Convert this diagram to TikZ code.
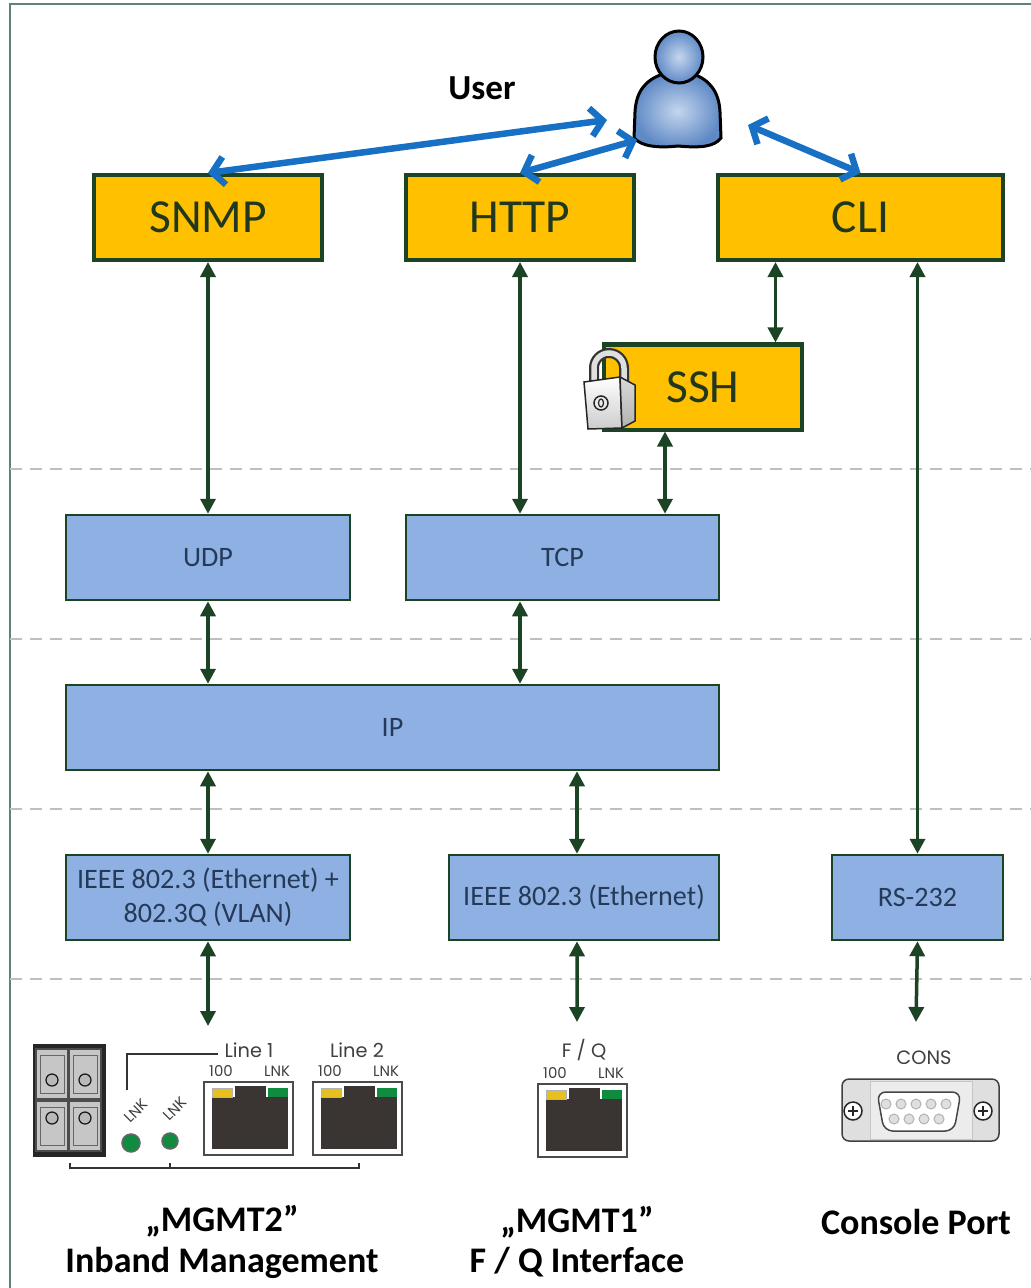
\documentclass[tikz,border=0pt]{standalone}
\usepackage{fontspec}
\setmainfont{Carlito}
\newfontfamily\portfont{Poppins}
\usepackage{tikz}
\usetikzlibrary{arrows.meta}

\definecolor{protoyellow}{RGB}{255,192,0}
\definecolor{layerblue}{RGB}{142,176,226}
\definecolor{darkgreen}{RGB}{28,68,36}
\definecolor{prototext}{RGB}{34,56,30}
\definecolor{layertext}{RGB}{36,58,88}
\definecolor{userblue}{RGB}{24,112,196}
\definecolor{iconlight}{RGB}{196,214,238}
\definecolor{icondark}{RGB}{96,138,198}
\definecolor{framegray}{RGB}{96,128,122}
\definecolor{ledgreen}{RGB}{16,140,64}
\definecolor{ledyellow}{RGB}{230,192,30}
\definecolor{jackgray}{RGB}{58,52,50}

\begin{document}
\begin{tikzpicture}[x=0.2mm,y=-0.2mm,
	proto/.style={draw=darkgreen,line width=0.8mm,fill=protoyellow,text=prototext,font=\fontsize{27}{32}\selectfont,minimum height=17mm,inner sep=0pt},
	layer/.style={draw=darkgreen,line width=0.5mm,fill=layerblue,text=layertext,font=\fontsize{16}{19.5}\selectfont,minimum height=17mm,inner sep=0pt,align=center},
	link/.style={draw=darkgreen,line width=0.7mm,>={Triangle[length=3mm,width=3mm]},<->},
	uselink/.style={draw=userblue,line width=1.3mm,>={Straight Barb[length=2.4mm,width=5.6mm]},<->},
	sep/.style={draw=gray!50,line width=0.3mm,dash pattern=on 2.4mm off 1.6mm},
	portlabel/.style={font=\portfont\fontsize{11}{13}\selectfont,text=black!75,inner sep=0pt},
	ledlabel/.style={font=\portfont\fontsize{8.5}{10}\selectfont,text=black!75,inner sep=0pt},
	title/.style={font=\bfseries\fontsize{20.5}{22.9}\selectfont,align=center,inner sep=0pt}]
	\useasboundingbox (0,0) rectangle (1031,1288);
	\fill[white] (0,0) rectangle (1031,1288);
	\draw[framegray,line width=0.4mm] (10,1288) -- (10,4) -- (1031,4);

	% layer separators
	\foreach \sy in {469,639,809,979}
		\draw[sep] (10,\sy) -- (1031,\sy);

	% application protocols
	\node[proto,minimum width=45.6mm] (snmp) at (208,217.5) {SNMP};
	\node[proto,minimum width=45.6mm] (http) at (520,217.5) {HTTP};
	\node[proto,minimum width=57mm] (cli) at (860.5,217.5) {CLI};
	\node[proto,minimum width=39.6mm] (ssh) at (703,387) {SSH};

	% transport and network layer
	\node[layer,minimum width=56.8mm] (udp) at (208,557.5) {UDP};
	\node[layer,minimum width=62.6mm] (tcp) at (562.5,557.5) {TCP};
	\node[layer,minimum width=130.6mm] (ip) at (392.5,727.5) {IP};

	% link layer
	\node[layer,minimum width=56.8mm] (ethvlan) at (208,897.5) {IEEE 802.3 (Ethernet) +\\802.3Q (VLAN)};
	\node[layer,minimum width=54mm] (eth) at (584,897.5) {IEEE 802.3 (Ethernet)};
	\node[layer,minimum width=34.2mm] (rs) at (917.5,897.5) {RS-232};

	% vertical links
	\coordinate (clissh) at ([xshift=-17mm]cli.south);
	\coordinate (sshtcp) at ([xshift=-7.6mm]ssh.south);
	\coordinate (ipeth) at ([xshift=-1.4mm]eth.north);
	\coordinate (intwo) at (208,1026);
	\coordinate (inone) at (577,1022);
	\coordinate (incons) at (916,1022);
	\draw[link] (snmp.south) -- (udp.north);
	\draw[link] (http.south) -- (http.south |- tcp.north);
	\draw[link] (clissh) -- (clissh |- ssh.north);
	\draw[link] (rs.north |- cli.south) -- (rs.north);
	\draw[link] (sshtcp) -- (sshtcp |- tcp.north);
	\draw[link] (udp.south) -- (udp.south |- ip.north);
	\draw[link] (http.south |- tcp.south) -- (http.south |- ip.north);
	\draw[link] (ethvlan.north |- ip.south) -- (ethvlan.north);
	\draw[link] (ipeth |- ip.south) -- (ipeth);
	\draw[link] (ethvlan.south) -- (intwo);
	\draw[link] (ipeth |- eth.south) -- (inone);
	\draw[link] (rs.south) -- (incons);

	% user icon
	\begin{scope}[line width=0.6mm]
		\shade[draw=black,inner color=iconlight,outer color=icondark] (663,74) .. controls (645,80) and (636,92) .. (635,112) -- (634,138) .. controls (642,147) and (660,148) .. (678,146) .. controls (700,148) and (714,147) .. (721,138) -- (720,112) .. controls (719,92) and (710,80) .. (693,74) -- cycle;
		\shade[draw=black,inner color=iconlight,outer color=icondark] (679,57) ellipse [x radius=24,y radius=26];
	\end{scope}
	\node[font=\bfseries\fontsize{20}{24}\selectfont] (user) at (482,88) {User};
	\coordinate (uleft) at (607,120);
	\coordinate (ulow) at (637,140);
	\coordinate (uright) at (748,125);
	\draw[uselink] (snmp.north) -- (uleft);
	\draw[uselink] (http.north) -- (ulow);
	\draw[uselink] (uright) -- (cli.north);

	% padlock on the SSH box
	\draw[line width=2mm,gray!40!black] (594,386) -- (594,368) arc[start angle=180,end angle=360,radius=15] -- (624,384);
	\draw[line width=1.1mm,gray!25] (594,386) -- (594,368) arc[start angle=180,end angle=360,radius=15] -- (624,384);
	\shade[draw=gray!30!black,line width=0.3mm,top color=white,bottom color=gray!40] (584,382) -- (620,377) -- (622,428) -- (588,429) -- cycle;
	\shade[draw=gray!30!black,line width=0.3mm,top color=gray!30,bottom color=gray!60] (620,377) -- (635,385) -- (635,421) -- (622,428) -- cycle;
	\draw[gray!30!black,line width=0.3mm,fill=gray!15] (601,403) circle (7);
	\draw[gray!30!black,line width=0.25mm] (601,403) ellipse [x radius=2.5,y radius=4];

	% fibre module with LNK LEDs
	\fill[black!85] (33,1044) rectangle (106,1157);
	\foreach \cx/\cy/\ky in {36/1049/31, 69/1049/31, 36/1101/17, 69/1101/17} {
		\draw[fill=gray!45,draw=black!70,line width=0.3mm] (\cx,\cy) rectangle ++(32,50);
		\draw[draw=black!60,line width=0.2mm] (\cx+4,\cy+6) rectangle ++(24,38);
		\draw[fill=gray!55,draw=gray!20!black,line width=0.25mm] (\cx+16,\cy+\ky) circle (6);
	}
	\draw[black!80,line width=0.3mm] (127,1090) -- (127,1054) -- (218,1054);
	\draw[fill=ledgreen,draw=black!60,line width=0.3mm] (131,1143) circle (9);
	\draw[fill=ledgreen,draw=black!60,line width=0.3mm] (170,1141) circle (8);
	\node[ledlabel,rotate=45] (lnka) at (136,1111) {LNK};
	\node[ledlabel,rotate=45] (lnkb) at (175,1109) {LNK};
	\draw[black!80,line width=0.3mm] (70,1163) -- (70,1168) -- (359,1168) -- (359,1163);
	\draw[black!80,line width=0.3mm] (170,1168) -- (170,1163);

	% RJ45 jacks
	\foreach \jx/\jy in {204/1082, 313/1082, 538/1084} {
		\begin{scope}[shift={(\jx,\jy)}]
			\draw[fill=white,draw=gray!60!black,line width=0.3mm] (0,0) rectangle (89,73);
			\fill[jackgray] (8,15) rectangle (84,67);
			\fill[jackgray] (31,4) rectangle (62,16);
			\draw[fill=ledyellow,draw=gray!60,line width=0.2mm] (8,6) rectangle (28,15);
			\fill[ledgreen] (64,6) rectangle (84,15);
			\node[ledlabel] at (17,-11) {100};
			\node[ledlabel] at (73,-11) {LNK};
		\end{scope}
	}
	\node[portlabel] (lineone) at (249,1050) {Line 1};
	\node[portlabel] (linetwo) at (357,1050) {Line 2};
	\node[portlabel] (fq) at (584,1050) {F / Q};

	% console connector
	\node[portlabel] (consl) at (924,1058) {CONS};
	\draw[fill=gray!25,draw=gray!50!black,line width=0.3mm,rounded corners=4] (842,1079) rectangle (999,1141);
	\draw[fill=gray!15,draw=gray!45,line width=0.2mm] (870,1081) rectangle (972,1139);
	\draw[fill=white,draw=gray!55!black,line width=0.3mm,rounded corners=5] (877,1092) -- (961,1092) -- (954,1131) -- (884,1131) -- cycle;
	\foreach \px in {886,901,916,931,946}
		\draw[fill=gray!25,draw=gray!60,line width=0.2mm] (\px,1104) circle (5);
	\foreach \px in {894,909,924,939}
		\draw[fill=gray!25,draw=gray!60,line width=0.2mm] (\px,1119) circle (5);
	\foreach \sx in {853,983} {
		\draw[fill=white,draw=gray!30!black,line width=0.3mm] (\sx,1111) circle (9);
		\draw[gray!30!black,line width=0.25mm] (\sx-5,1111) -- (\sx+5,1111) (\sx,1106) -- (\sx,1116);
	}

	% port names
	\node[title] (mgmttwo) at (222,1242) {„MGMT2"\\Inband Management};
	\node[title] (mgmtone) at (577,1242) {„MGMT1"\\F / Q Interface};
	\node[title] (console) at (916,1222) {Console Port};
\end{tikzpicture}
\end{document}
